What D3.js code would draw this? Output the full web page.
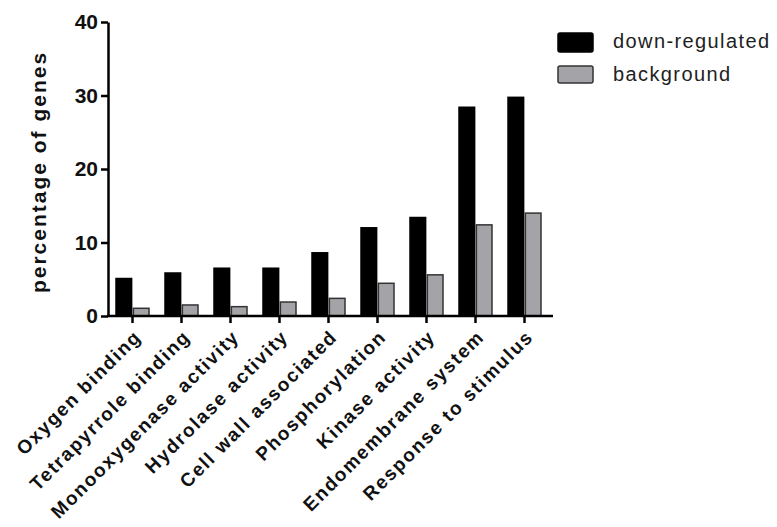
<!DOCTYPE html>
<html>
<head>
<meta charset="utf-8">
<script src="https://cdn.jsdelivr.net/npm/d3@7"></script>
<style>
  body { margin: 0; background: #fff; }
  svg { display: block; font-family: "Liberation Sans", Arial, sans-serif; }
</style>
</head>
<body>
<div id="chart-area"></div>
<script>
var categories = ["Oxygen binding", "Tetrapyrrole binding", "Monooxygenase activity",
    "Hydrolase activity", "Cell wall associated", "Phosphorylation",
    "Kinase activity", "Endomembrane system", "Response to stimulus"];
var seriesNames = ["down-regulated", "background"];
var downRegulated = [5.1, 5.85, 6.5, 6.5, 8.6, 12.0, 13.4, 28.4, 29.75];
var background = [1.05, 1.5, 1.27, 1.9, 2.4, 4.45, 5.6, 12.4, 14.0];
var yTicks = [0, 10, 20, 30, 40];

var width = 777;
var height = 527;
var colors = { "down-regulated": "#000000", "background": "#a4a4a8" };

var svg = d3.select("#chart-area")
    .append("svg")
    .attr("width", width)
    .attr("height", height);

var data = categories.map((c, i) => ({
    name: c,
    values: [
        { key: "down-regulated", value: downRegulated[i] },
        { key: "background", value: background[i] }
    ]
}));

var x0 = d3.scaleBand()
    .domain(categories)
    .range([108, 549]);

var x1 = d3.scaleBand()
    .domain(seriesNames)
    .range([8, 41])
    .paddingInner(0.1);

var y = d3.scaleLinear()
    .domain([0, 40])
    .range([316, 22]);

// bars
var groups = svg.selectAll("g.group")
    .data(data)
    .enter()
    .append("g")
    .attr("class", "group")
    .attr("transform", d => `translate(${x0(d.name)}, 0)`);

groups.selectAll("rect")
    .data(d => d.values)
    .enter()
    .append("rect")
    .attr("x", d => x1(d.key))
    .attr("y", d => y(d.value))
    .attr("width", x1.bandwidth())
    .attr("height", d => y(0) - y(d.value))
    .attr("fill", d => colors[d.key])
    .attr("stroke", d => d.key === "background" ? "#333" : "#000")
    .attr("stroke-width", 1.5);

// y axis
var yAxis = d3.axisLeft(y)
    .tickValues(yTicks)
    .tickSize(7)
    .tickSizeOuter(0);
var gy = svg.append("g")
    .attr("transform", `translate(108, 0)`)
    .call(yAxis);
gy.select(".domain").attr("stroke-width", 2.5);
gy.selectAll(".tick line").attr("stroke-width", 2.5);
gy.selectAll("text")
    .attr("x", -10)
    .attr("font-size", "21px")
    .attr("font-weight", "bold")
    .attr("fill", "#111")
    .attr("font-family", "Liberation Sans, Arial, sans-serif");

// x axis
var xAxis = d3.axisBottom(x0)
    .tickSize(7)
    .tickSizeOuter(0);
var gx = svg.append("g")
    .attr("transform", `translate(0, ${y(0)})`)
    .call(xAxis);
gx.select(".domain").remove();
gx.append("line")
    .attr("x1", 107)
    .attr("x2", 553)
    .attr("stroke", "#000")
    .attr("stroke-width", 2.5);
gx.selectAll(".tick line").attr("stroke-width", 2.5);
gx.selectAll("text")
    .attr("x", 0)
    .attr("y", 0)
    .attr("dy", 0)
    .attr("text-anchor", "end")
    .attr("transform", "translate(10, 22) rotate(-45)")
    .attr("font-size", "19px")
    .attr("font-weight", "bold")
    .attr("letter-spacing", "1.7px")
    .attr("fill", "#111")
    .attr("font-family", "Liberation Sans, Arial, sans-serif");

// y axis title
svg.append("text")
    .attr("transform", "translate(46, 172) rotate(-90)")
    .attr("text-anchor", "middle")
    .attr("font-size", "21px")
    .attr("font-weight", "bold")
    .attr("letter-spacing", "2px")
    .attr("fill", "#111")
    .text("percentage of genes");

// legend
var legend = svg.selectAll("g.legend")
    .data(seriesNames)
    .enter()
    .append("g")
    .attr("class", "legend")
    .attr("transform", (d, i) => `translate(558, ${33 + i * 33})`);

legend.append("rect")
    .attr("width", 35)
    .attr("height", (d, i) => i === 0 ? 19 : 17)
    .attr("rx", 2)
    .attr("fill", d => colors[d])
    .attr("stroke", d => d === "background" ? "#333" : "#000")
    .attr("stroke-width", 1.5);

legend.append("text")
    .attr("x", 55)
    .attr("y", 15)
    .attr("font-size", "20px")
    .attr("letter-spacing", "1.4px")
    .attr("fill", "#222")
    .text(d => d);
</script>
</body>
</html>
